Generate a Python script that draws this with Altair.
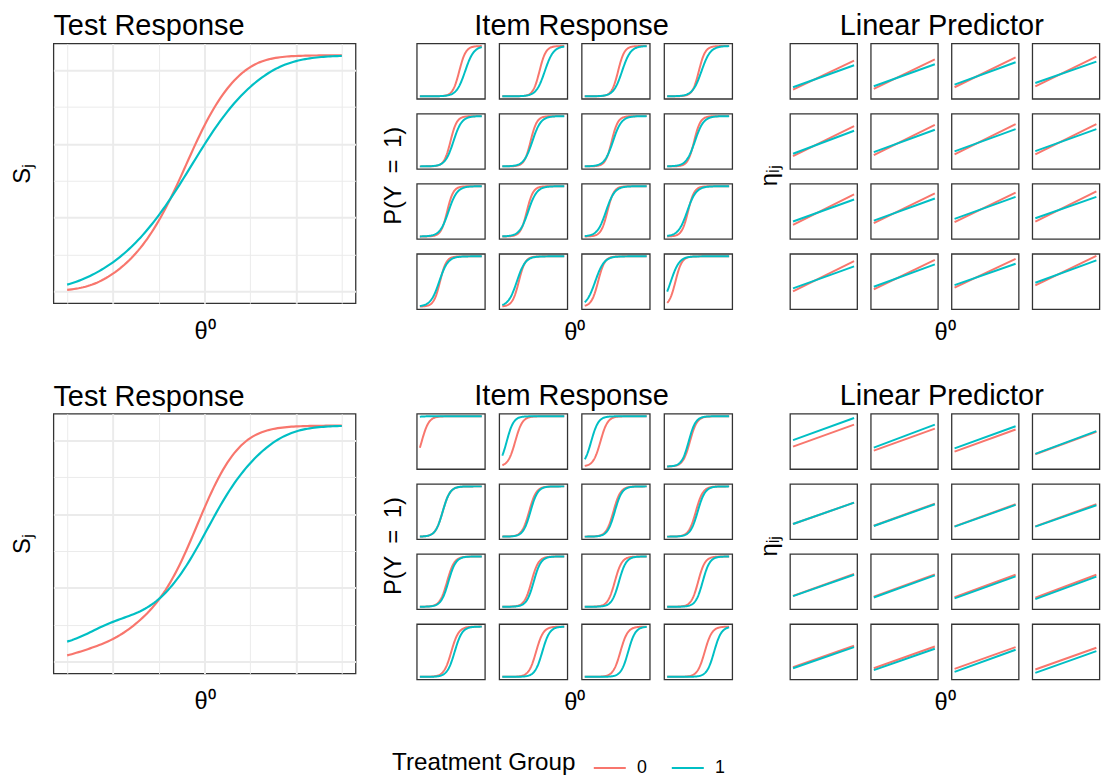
import altair as alt
import numpy as np
import pandas as pd

FONT = "Liberation Sans, Arial, Helvetica, sans-serif"
RED = "#F8766D"
CYAN = "#00BFC4"

THETA_MIN, THETA_MAX = -3.0, 3.0
items = list(range(1, 17))
groups = ["0", "1"]

# Linear predictor eta at theta = -3 (lo) and theta = +3 (hi), items 1..16
# --- first figure (top row)
top_g0_lo = [-11.91, -11.49, -10.43, -9.79, -9.57, -8.94, -8.51, -8.51,
             -8.72, -7.66, -7.02, -6.60, -6.38, -5.11, -4.04, -2.55]
top_g0_hi = [6.81, 7.66, 8.94, 9.36, 9.79, 10.64, 11.06, 11.06,
             11.06, 11.70, 12.13, 12.98, 13.19, 14.04, 14.68, 16.60]
top_g1_lo = [-10.43, -9.79, -8.72, -7.66, -8.09, -7.02, -6.60, -6.38,
             -6.60, -5.96, -4.89, -4.47, -4.47, -3.40, -2.34, -0.85]
top_g1_hi = [3.83, 4.47, 5.74, 6.17, 6.81, 7.45, 7.87, 7.87,
             7.66, 8.30, 9.36, 9.36, 9.79, 11.06, 11.49, 13.62]
# --- second figure (bottom row)
bot_g0_lo = [-0.51, -3.59, -4.36, -6.41, -6.15, -7.44, -7.95, -7.95,
             -7.44, -8.21, -8.46, -8.97, -8.46, -9.23, -9.74, -10.26]
bot_g0_hi = [16.67, 13.59, 12.82, 11.03, 10.51, 9.74, 9.23, 9.23,
             9.49, 9.23, 8.97, 8.97, 8.21, 7.69, 7.18, 6.67]
bot_g1_lo = [4.62, -1.28, -1.79, -6.15, -6.15, -7.69, -8.21, -8.21,
             -7.69, -8.72, -9.49, -10.00, -9.23, -10.77, -12.05, -12.82]
bot_g1_hi = [21.79, 16.67, 15.38, 11.54, 10.51, 9.23, 8.72, 8.46,
             8.97, 8.46, 7.69, 7.44, 7.18, 5.90, 5.13, 4.10]

top_eta_domain = [-17.9, 17.9]
bot_eta_domain = [-17.9, 25.1]

grid = np.linspace(THETA_MIN, THETA_MAX, 121)


def item_probs(lo, hi):
    lo = np.asarray(lo)[:, None]
    hi = np.asarray(hi)[:, None]
    eta = lo + (hi - lo) * (grid[None, :] - THETA_MIN) / (THETA_MAX - THETA_MIN)
    return 1.0 / (1.0 + np.exp(-eta))


def make_frames(eta):
    tr_rows, ir_rows, lp_rows = [], [], []
    for g in groups:
        lo, hi = eta[g]
        P = item_probs(lo, hi)
        for k, item in enumerate(items):
            fr, fc = k // 4, k % 4
            for t, p in zip(grid, P[k]):
                ir_rows.append(dict(item=item, frow=fr, fcol=fc, group=g, theta=float(t), p=float(p)))
            lp_rows.append(dict(item=item, frow=fr, fcol=fc, group=g, theta=THETA_MIN, eta=lo[k]))
            lp_rows.append(dict(item=item, frow=fr, fcol=fc, group=g, theta=THETA_MAX, eta=hi[k]))
        S = P.sum(axis=0)
        for t, s in zip(grid, S):
            tr_rows.append(dict(group=g, theta=float(t), s=float(s)))
    return pd.DataFrame(tr_rows), pd.DataFrame(ir_rows), pd.DataFrame(lp_rows)


color_enc = alt.Color(
    "group:N",
    scale=alt.Scale(domain=groups, range=[RED, CYAN]),
    legend=alt.Legend(
        title="Treatment Group", orient="none", legendX=343, legendY=716,
        direction="horizontal", titleOrient="left", symbolType="stroke", titleLimit=400,
        symbolSize=1050, symbolStrokeWidth=2, labelFontSize=18, titleFontSize=24.5,
        labelFont=FONT, titleFont=FONT, titleFontWeight="normal", titleColor="black",
        labelColor="black", columnPadding=20, labelOffset=10, titlePadding=17,
    ),
)

xscale = alt.Scale(domain=[-3.3, 3.3], nice=False, zero=False)
TITLE_KW = dict(font=FONT, fontSize=29.3, fontWeight="normal", color="black", offset=2)
AX_T = dict(titleFont=FONT, titleFontSize=24, titleFontWeight="normal", titleColor="black")

CELL_H = 56
SP_ROW = 13


def tr_chart(df):
    return alt.Chart(df).mark_line(strokeWidth=2.2).encode(
        x=alt.X("theta:Q", scale=xscale,
                axis=alt.Axis(title="θ⁰", values=[-3, -2, -1, 0, 1, 2, 3], labels=False, ticks=False,
                              domain=False, grid=True, gridColor="#EBEBEB",
                              gridWidth={"condition": {"test": "datum.value % 2 === 0", "value": 2.0}, "value": 1.0},
                              titlePadding=17, **AX_T)),
        y=alt.Y("s:Q", scale=alt.Scale(domain=[-0.8, 16.8], nice=False, zero=False),
                axis=alt.Axis(title="Sⱼ", values=[0, 2.5, 5, 7.5, 10, 12.5, 15], labels=False, ticks=False,
                              domain=False, grid=True, gridColor="#EBEBEB",
                              gridWidth={"condition": {"test": "datum.value % 5 === 0", "value": 2.0}, "value": 1.0},
                              titlePadding=19, **AX_T)),
        color=color_enc,
    ).properties(width=306, height=263,
                 title=alt.TitleParams("Test Response", anchor="start", frame="group", **TITLE_KW))


def grid_chart(df, yfield, ydomain, ytitle, title, cell_w, sp_col, ytitle_pad):
    grid_w = 4 * cell_w + 3 * sp_col
    base = alt.Chart(df).mark_line(strokeWidth=2.0, clip=True).encode(
        x=alt.X("theta:Q", scale=xscale, axis=None),
        y=alt.Y(f"{yfield}:Q", scale=alt.Scale(domain=ydomain, nice=False, zero=False), axis=None),
        color=color_enc,
    ).properties(width=cell_w, height=CELL_H)
    return base.facet(
        row=alt.Row("frow:O", header=alt.Header(labels=False, labelPadding=0, title=ytitle, titleFont=FONT,
                                                  titleFontSize=24, titleFontWeight="normal",
                                                  titleColor="black", titlePadding=ytitle_pad)),
        column=alt.Column("fcol:O", header=alt.Header(labels=False, labelPadding=0, title="θ⁰",
                                                        titleOrient="bottom", titleFont=FONT, titleFontSize=24,
                                                        titleFontWeight="normal", titleColor="black",
                                                        titlePadding=1)),
        spacing={"row": SP_ROW, "column": sp_col},
    ).properties(title=alt.TitleParams(title, anchor="middle", frame="group", dx=grid_w / 2, **TITLE_KW))


def row_chart(eta, eta_domain):
    tr_df, ir_df, lp_df = make_frames(eta)
    return alt.hconcat(
        tr_chart(tr_df),
        grid_chart(ir_df, "p", [-0.05, 1.05], "P(Y\u2002=\u20021)", "Item Response", 69, 12.5, 0),
        grid_chart(lp_df, "eta", eta_domain, "ηᵢⱼ", "Linear Predictor", 68, 11.8, -3),
        spacing=25,
    )


row1 = row_chart({"0": (top_g0_lo, top_g0_hi), "1": (top_g1_lo, top_g1_hi)}, top_eta_domain)
row2 = row_chart({"0": (bot_g0_lo, bot_g0_hi), "1": (bot_g1_lo, bot_g1_hi)}, bot_eta_domain)

chart = alt.vconcat(row1, row2, spacing=38).properties(
    padding={"left": 2, "right": 0, "top": -1, "bottom": 0},
    background="white",
).configure_view(stroke="#333333", strokeWidth=1.3)

chart.save("out.html", embed_options={"renderer": "svg", "actions": False})
